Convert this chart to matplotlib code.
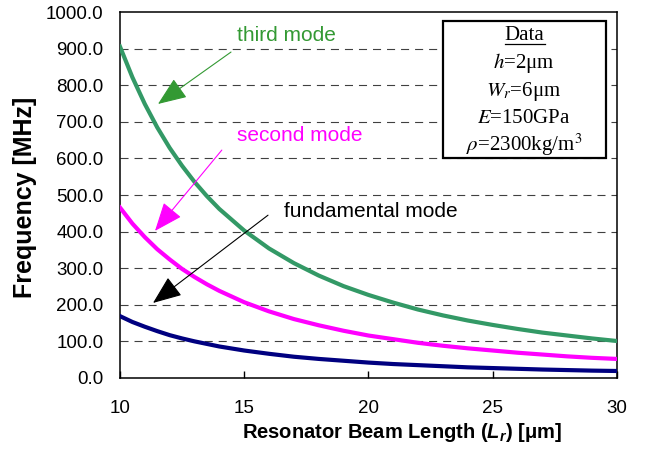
import matplotlib
matplotlib.use('Agg')
import matplotlib.pyplot as plt
from matplotlib.patches import Rectangle
from matplotlib.lines import Line2D

plt.rcParams['font.family'] = ['Liberation Sans', 'DejaVu Sans']
plt.rcParams['mathtext.fontset'] = 'custom'
plt.rcParams['mathtext.rm'] = 'Liberation Sans:bold'
plt.rcParams['mathtext.it'] = 'Liberation Sans:italic:bold'
plt.rcParams['mathtext.bf'] = 'Liberation Sans:bold'
plt.rcParams['lines.scale_dashes'] = False

# beam length [um]
length = [10, 10.5, 11, 11.5, 12, 12.5, 13, 13.5, 14, 15, 16, 17, 18, 19, 20,
          21, 22, 23, 24, 25, 26, 27, 28, 29, 30]
# frequencies [MHz]
f_fund = [169, 153, 140, 128, 117, 108, 100, 93, 86, 75, 66, 58, 52, 47, 42,
          38, 35, 32, 29, 27, 25, 23, 21.5, 20, 19]
f_second = [466, 422, 385, 352, 324, 298, 276, 256, 238, 207, 182, 161, 144, 129, 116,
            106, 96, 88, 81, 75, 69, 64, 59, 55, 52]
f_third = [906, 822, 749, 685, 629, 580, 536, 497, 462, 403, 354, 314, 280, 251, 227,
           206, 187, 171, 157, 145, 134, 124, 116, 108, 101]

green = '#339966'
green_dark = '#339933'
magenta = '#FF00FF'
navy = '#000080'

fig = plt.figure(figsize=(6.52, 4.51), dpi=100)
ax = fig.add_axes([0.184, 0.162, 0.762, 0.811])

# dashed horizontal grid
for yv in range(100, 1000, 100):
    ax.axhline(yv, color='#404040', lw=0.8, dashes=(5.8, 4.3), zorder=1)

ax.plot(length, f_third, color=green, lw=3, zorder=3, solid_joinstyle='round')
ax.plot(length, f_second, color=magenta, lw=3, zorder=3, solid_joinstyle='round')
ax.plot(length, f_fund, color=navy, lw=3, zorder=3, solid_joinstyle='round')

ax.set_xlim(10, 30)
ax.set_ylim(0, 1000)
ax.set_xticks([10, 15, 20, 25, 30])
ax.set_yticks(range(0, 1001, 100))
ax.set_yticklabels(['%.1f' % v for v in range(0, 1001, 100)])
ax.tick_params(axis='x', direction='in', length=5, width=1, pad=16, labelsize=13.5)
ax.tick_params(axis='y', length=0, pad=12, labelsize=13.5)
for s in ax.spines.values():
    s.set_linewidth(1.1)

ax.set_xlabel('Resonator Beam Length ($L_r$) [μm]', fontsize=14.5, fontweight='bold')
ax.xaxis.set_label_coords(0.567, -0.118)
ax.set_ylabel('Frequency [MHz]', fontsize=18, fontweight='bold')
ax.yaxis.set_label_coords(-0.167, 0.493)

# annotations
arrow_style = '-|>,head_length=0.9,head_width=0.36'
ax.text(16.72, 937, 'third mode', color=green_dark, fontsize=15, ha='center', va='center')
ax.annotate('', xy=(11.53, 749), xytext=(14.47, 891),
            arrowprops=dict(arrowstyle=arrow_style, mutation_scale=20, lw=0.8,
                            color=green_dark, shrinkA=0, shrinkB=0), zorder=5)
ax.text(17.24, 664, 'second mode', color=magenta, fontsize=15, ha='center', va='center')
ax.annotate('', xy=(11.41, 402), xytext=(14.10, 623),
            arrowprops=dict(arrowstyle=arrow_style, mutation_scale=20, lw=0.8,
                            color=magenta, shrinkA=0, shrinkB=0), zorder=5)
ax.text(20.1, 454, 'fundamental mode', color='black', fontsize=15, ha='center', va='center')
ax.annotate('', xy=(11.33, 205), xytext=(15.96, 445),
            arrowprops=dict(arrowstyle=arrow_style, mutation_scale=20, lw=0.8,
                            color='black', shrinkA=0, shrinkB=0), zorder=5)

# data box
ax.add_patch(Rectangle((0.650, 0.601), 0.328, 0.374, transform=ax.transAxes,
                       facecolor='white', edgecolor='black', lw=1.6, zorder=6))
box_lines = ['Data', '$h$=2μm', '$W_r$=6μm', '$E$=150GPa', r'$\rho$=2300kg/m$^3$']
box_y = [35, 63, 91, 118, 145]
for txt, py in zip(box_lines, box_y):
    ax.text(0.813, (378 - py) / 366, txt, transform=ax.transAxes, ha='center',
            va='center', fontsize=15, family='Liberation Serif',
            math_fontfamily='stix', zorder=7)
ax.add_line(Line2D([(505 - 120) / 497, (545 - 120) / 497],
                   [(378 - 44) / 366, (378 - 44) / 366],
                   transform=ax.transAxes, color='black', lw=0.9, zorder=7))

fig.savefig('out.png', dpi=100)
